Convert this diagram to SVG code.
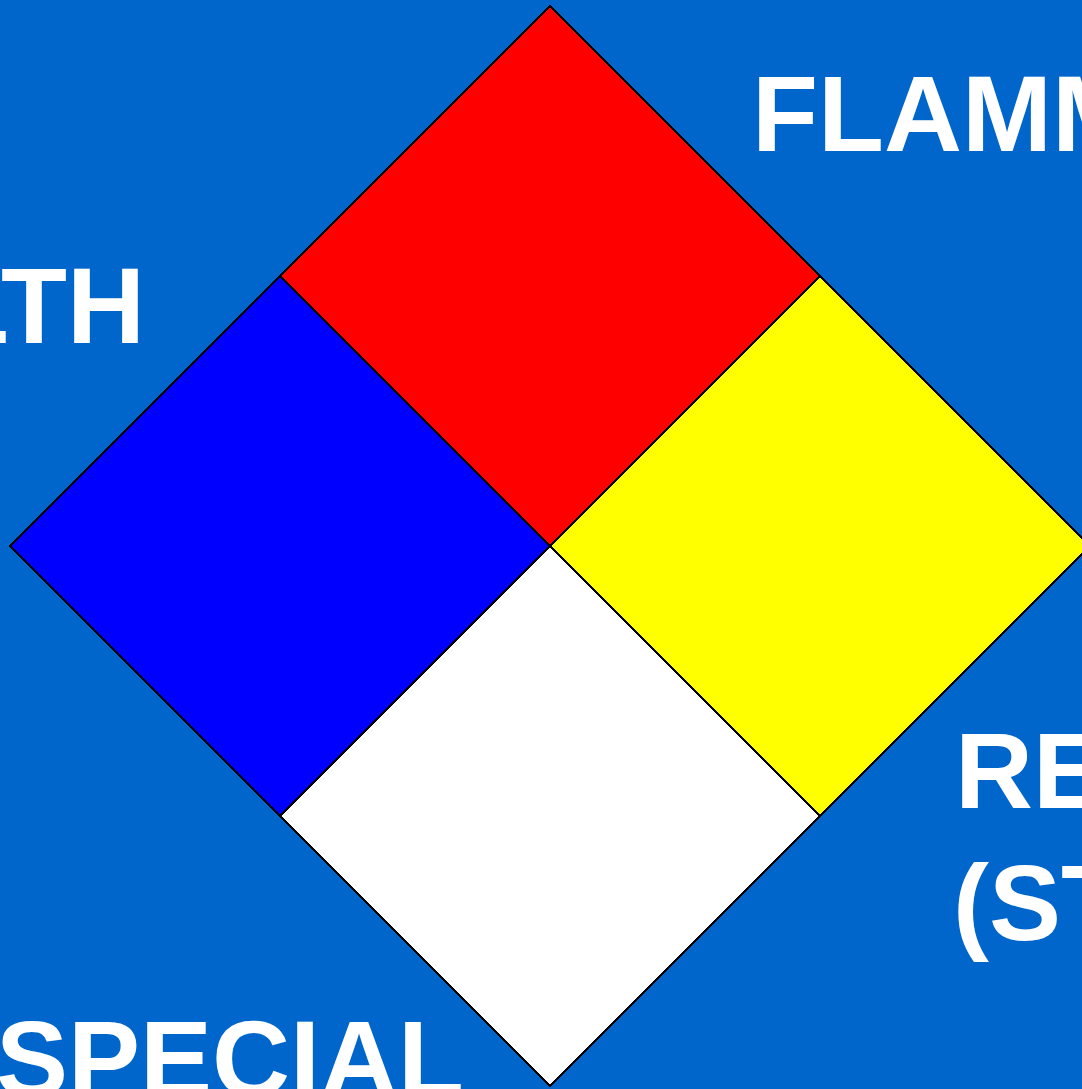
<svg xmlns="http://www.w3.org/2000/svg" width="1082" height="1089" viewBox="0 0 1082 1089">
<style>
.q{stroke:#000;stroke-width:2;shape-rendering:crispEdges}
.t{font-family:"Liberation Sans",Arial,sans-serif;font-weight:bold;font-size:108px;fill:#fff}
</style>
<rect width="1082" height="1089" fill="#0066CC"/>
<g id="health"><polygon class="q" points="10,546 280,276 550,546 280,816" fill="#0000FF"/></g>
<g id="flammability"><polygon class="q" points="280,276 550,6 820,276 550,546" fill="#FF0000"/></g>
<g id="reactivity"><polygon class="q" points="550,546 820,276 1090,546 820,816" fill="#FFFF00"/></g>
<g id="special"><polygon class="q" points="280,816 550,546 820,816 550,1086" fill="#FFFFFF"/></g>
<g id="labels">
<text class="t" x="752" y="151">FLAMMABILITY</text>
<text class="t" x="145" y="343" text-anchor="end">HEALTH</text>
<text class="t" x="955" y="808">REACTIVITY</text>
<text class="t" x="953" y="940">(STABILITY)</text>
<text class="t" x="-4" y="1096">SPECIAL</text>
</g>
</svg>
